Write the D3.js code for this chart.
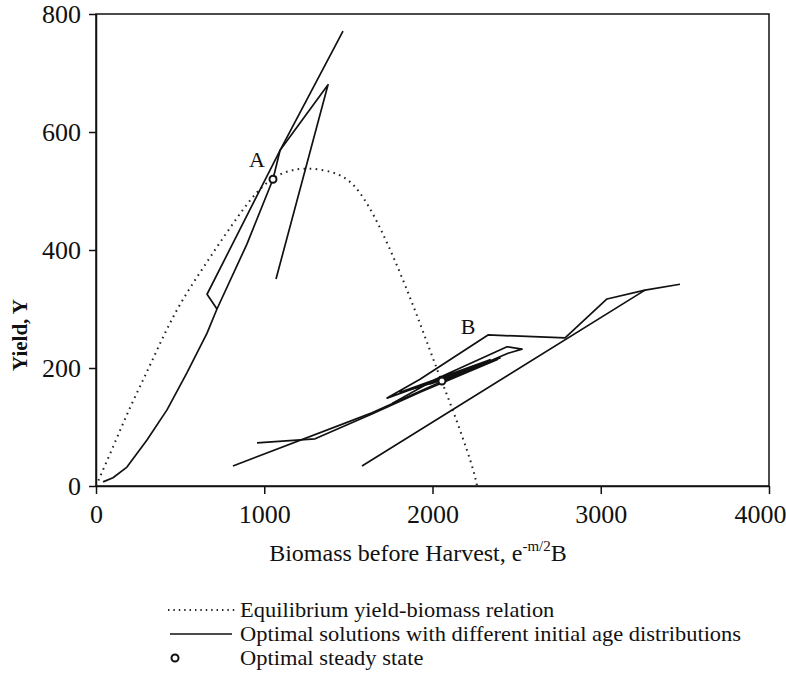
<!DOCTYPE html>
<html>
<head>
<meta charset="utf-8">
<script src="https://cdn.jsdelivr.net/npm/d3@7"></script>
<style>
  body { margin: 0; background: #fff; }
  text { font-family: "Liberation Serif", "Times New Roman", serif; fill: #111; }
</style>
</head>
<body>
<div id="chart"></div>
<script>
// equilibrium yield-biomass relation (dotted)
var eqBiomass = [0, 103, 202, 303, 398, 499, 648, 796, 957, 1094, 1254, 1450, 1560, 1680, 1807, 1926, 2027, 2122, 2241, 2265];
var eqYield   = [0, 67, 134, 193, 253, 310, 375, 438, 502, 532, 541, 531, 505, 445, 363, 276, 197, 129, 32, 0];

// optimal solutions, steady state A
var pathA1 = [[1468, 771], [1094, 569], [660, 325], [719, 300]];
var pathA2 = [[42, 7], [101, 14], [184, 32], [303, 78], [422, 129], [541, 192], [660, 259], [719, 300],
              [897, 410], [1052, 520], [1094, 569], [1379, 680], [1070, 351]];

// optimal solutions, steady state B
var pathB1 = [[1581, 34], [3263, 332], [3471, 342]];
var pathB2 = [[3263, 332], [3037, 317], [2788, 251], [2330, 256], [1926, 181], [1730, 149], [1926, 169],
              [2443, 236], [2532, 232], [2449, 225], [2104, 183], [1807, 159], [2342, 214], [1866, 163],
              [2223, 197], [1985, 173], [2134, 186], [2056, 178]];
var pathB3 = [[814, 34], [1640, 124], [2045, 176], [2401, 217], [2056, 178]];
var pathB4 = [[957, 73], [1302, 80], [1640, 122], [1926, 159], [2383, 214], [2134, 185], [2056, 178]];
var pathB5 = [[1760, 140], [2000, 178], [2300, 207], [1900, 166], [2180, 192], [2056, 178]];

// optimal steady states
var steadyBiomass = [1052, 2056];
var steadyYield = [520, 178];
var steadyLabels = ["A", "B"];
var labelBiomass = [957, 2211];
var labelYield = [541, 258];

var xTicks = [0, 1000, 2000, 3000, 4000];
var yTicks = [0, 200, 400, 600, 800];

var legendLabels = ["Equilibrium yield-biomass relation",
                    "Optimal solutions with different initial age distributions",
                    "Optimal steady state"];

var svgWidth = 786;
var svgHeight = 675;
var margin = { top: 14, right: 17, bottom: 189, left: 96 };
var width = svgWidth - margin.left - margin.right;
var height = svgHeight - margin.top - margin.bottom;

var svg = d3.select("#chart")
  .append("svg")
  .attr("width", svgWidth)
  .attr("height", svgHeight);

var chartGroup = svg.append("g")
  .attr("transform", `translate(${margin.left}, ${margin.top})`);

var xScale = d3.scaleLinear().domain([0, 4000]).range([0, width]);
var yScale = d3.scaleLinear().domain([0, 800]).range([height, 0]);

// frame
chartGroup.append("rect")
  .attr("width", width)
  .attr("height", height)
  .attr("fill", "none")
  .attr("stroke", "#111")
  .attr("stroke-width", 1.5);

var bottomAxis = d3.axisBottom(xScale).tickValues(xTicks).tickFormat(d3.format("d"))
  .tickSize(8).tickSizeOuter(0).tickPadding(11);
var leftAxis = d3.axisLeft(yScale).tickValues(yTicks).tickFormat(d3.format("d"))
  .tickSize(7).tickSizeOuter(0).tickPadding(8);

var xAxis = chartGroup.append("g")
  .attr("transform", `translate(0, ${height})`)
  .call(bottomAxis);

var yAxis = chartGroup.append("g")
  .call(leftAxis);

[xAxis, yAxis].forEach(function (ax) {
  ax.select(".domain").attr("stroke", "#111").attr("stroke-width", 1.5);
  ax.selectAll(".tick line").attr("stroke", "#111").attr("stroke-width", 1.5);
  ax.selectAll(".tick text")
    .attr("fill", "#111")
    .style("font-family", "'Liberation Serif', serif")
    .style("font-size", "26px");
});
yAxis.selectAll(".tick text").attr("dy", "0.34em");
// last x label sits against the page edge, as in the reference
xAxis.selectAll(".tick text").filter(d => d === 4000).attr("dx", -9);

// axis titles
var xTitle = svg.append("text")
  .attr("x", 418)
  .attr("y", 561)
  .attr("text-anchor", "middle")
  .style("font-size", "24px");
xTitle.append("tspan").text("Biomass before Harvest, e");
xTitle.append("tspan").attr("dy", -10).style("font-size", "15px").text("-m/2");
xTitle.append("tspan").attr("dy", 10).text("B");

svg.append("text")
  .attr("transform", "translate(27, 335) rotate(-90)")
  .attr("text-anchor", "middle")
  .style("font-size", "21px")
  .style("font-weight", "bold")
  .text("Yield, Y");

// equilibrium curve
var eqData = eqBiomass.map(function (b, i) { return [b, eqYield[i]]; });
var curveLine = d3.line()
  .x(d => xScale(d[0]))
  .y(d => yScale(d[1]))
  .curve(d3.curveBasis);

chartGroup.append("path")
  .datum(eqData)
  .attr("d", curveLine)
  .attr("fill", "none")
  .attr("stroke", "#222")
  .attr("stroke-width", 2)
  .attr("stroke-dasharray", "1.6,4.4");

// optimal paths
var pathLine = d3.line()
  .x(d => xScale(d[0]))
  .y(d => yScale(d[1]));

chartGroup.selectAll(".opt-path")
  .data([pathA1, pathA2, pathB1, pathB2, pathB3, pathB4, pathB5])
  .enter()
  .append("path")
  .attr("class", "opt-path")
  .attr("d", pathLine)
  .attr("fill", "none")
  .attr("stroke", "#111")
  .attr("stroke-width", 1.7)
  .attr("stroke-linejoin", "round");

// steady states
chartGroup.selectAll(".steady")
  .data(steadyBiomass)
  .enter()
  .append("circle")
  .attr("class", "steady")
  .attr("cx", d => xScale(d))
  .attr("cy", (d, i) => yScale(steadyYield[i]))
  .attr("r", 3.5)
  .attr("fill", "#fff")
  .attr("stroke", "#111")
  .attr("stroke-width", 2);

chartGroup.selectAll(".steady-label")
  .data(steadyLabels)
  .enter()
  .append("text")
  .attr("class", "steady-label")
  .attr("x", (d, i) => xScale(labelBiomass[i]))
  .attr("y", (d, i) => yScale(labelYield[i]))
  .attr("text-anchor", "middle")
  .style("font-size", "22px")
  .text(d => d);

// legend
var legend = svg.append("g");
var rowY = [610, 634, 658];

legend.append("line")
  .attr("x1", 168).attr("x2", 236)
  .attr("y1", rowY[0]).attr("y2", rowY[0])
  .attr("stroke", "#222")
  .attr("stroke-width", 1.8)
  .attr("stroke-dasharray", "1.4,4");

legend.append("line")
  .attr("x1", 170).attr("x2", 232)
  .attr("y1", rowY[1]).attr("y2", rowY[1])
  .attr("stroke", "#111")
  .attr("stroke-width", 1.6);

legend.append("circle")
  .attr("cx", 175).attr("cy", rowY[2])
  .attr("r", 3.5)
  .attr("fill", "#fff")
  .attr("stroke", "#111")
  .attr("stroke-width", 2);

// scanned text is a little wider than the serif font, so stretch it slightly
legend.selectAll(".legend-text")
  .data(legendLabels)
  .enter()
  .append("text")
  .attr("class", "legend-text")
  .attr("transform", (d, i) => `translate(240, ${rowY[i] + 7}) scale(1.07, 1)`)
  .style("font-size", "21px")
  .text(d => d);
</script>
</body>
</html>
